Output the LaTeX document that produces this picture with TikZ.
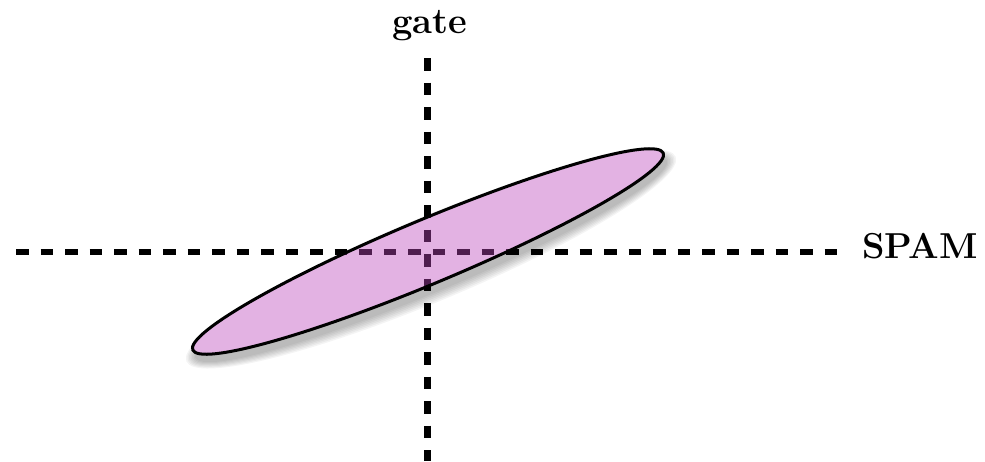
\documentclass[tikz,border=0pt]{standalone}
\usepackage{fontspec}
\usetikzlibrary{calc}
\definecolor{ellfill}{RGB}{190,72,190}
\tikzset{
  axisline/.style={line width=6.5pt, dash pattern=on 12.5pt off 12pt, black},
  axislabel/.style={inner sep=0pt, anchor=base, font=\fontsize{31}{36}\selectfont\bfseries},
}
\begin{document}
\begin{tikzpicture}[x=1pt,y=-1pt]
\useasboundingbox (0,0) rectangle (985,461);
% shadow
\foreach \i in {1,...,7}{
  \fill[black, opacity=0.045] (431,259) ellipse [x radius={254+1.6*\i}, y radius={31+1.6*\i}, rotate=22.7];
}
% white underlay hides shadow under the ellipse
\fill[white] (428,251.5) ellipse [x radius=255, y radius=32, rotate=22.7];
% axes
\coordinate (hL) at (16,252);
\coordinate (hR) at (842,252);
\coordinate (vT) at (427.5,58);
\coordinate (vB) at (427.5,461);
\draw[axisline] (hL) -- (hR);
\draw[axisline] (vT) -- (vB);
% ellipse
\draw[line width=3pt, fill=ellfill, fill opacity=0.42] (428,251.5) ellipse [x radius=255, y radius=32, rotate=22.7];
% labels
\node[axislabel] (gate) at (429.5,33) {\resizebox{75pt}{!}{gate}};
\node[axislabel] (spam) at (920,258) {\resizebox{116pt}{!}{SPAM}};
\end{tikzpicture}
\end{document}
